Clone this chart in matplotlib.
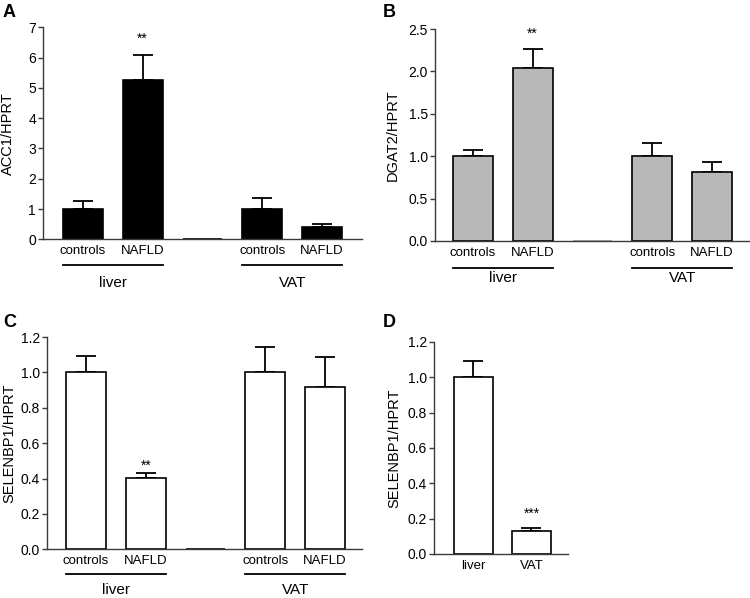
import numpy as np
import matplotlib.pyplot as plt
from matplotlib.transforms import offset_copy

plt.rcParams['font.family'] = ['Liberation Sans', 'DejaVu Sans']

# Données
groupes = ['controls', 'NAFLD', '', 'controls', 'NAFLD']
tissus = ['liver', 'VAT']

acc1_moy = [1.0, 5.27, 0.0, 1.0, 0.42]
acc1_err = [0.25, 0.83, 0.0, 0.36, 0.10]

dgat2_moy = [1.0, 2.04, 0.0, 1.0, 0.81]
dgat2_err = [0.07, 0.23, 0.0, 0.16, 0.12]

selenbp1_moy = [1.0, 0.405, 0.0, 1.0, 0.92]
selenbp1_err = [0.09, 0.027, 0.0, 0.145, 0.165]

selenbp1_tissu_moy = [1.0, 0.13]
selenbp1_tissu_err = [0.09, 0.015]

fig = plt.figure(figsize=(7.5, 5.98), dpi=100)

ax_a = fig.add_axes([0.0573, 0.5998, 0.4253, 0.3545])
ax_b = fig.add_axes([0.58, 0.597, 0.4187, 0.3545])
ax_c = fig.add_axes([0.0627, 0.0814, 0.42, 0.355])
ax_d = fig.add_axes([0.5787, 0.0736, 0.1787, 0.3545])

AXE = '#3a3a3a'


def style_axe(ax, ymax, pas, fmt, ylabel, xlabx):
    for s in ['top', 'right']:
        ax.spines[s].set_visible(False)
    for s in ['left', 'bottom']:
        ax.spines[s].set_color(AXE)
        ax.spines[s].set_linewidth(1.0)
    ax.set_ylim(0, ymax)
    yt = np.arange(0, ymax + pas / 2, pas)
    ax.set_yticks(yt)
    ax.set_yticklabels([fmt.format(v) for v in yt], fontsize=10)
    ax.tick_params(axis='y', length=3.5, width=1.0, color=AXE, pad=1.5)
    ax.tick_params(axis='x', length=0, pad=4, labelsize=9.5)
    ax.set_ylabel(ylabel, fontsize=10.5)
    ax.yaxis.set_label_coords(xlabx, 0.5)


def barres(ax, moy, err, couleur, ligne_vide):
    x = np.arange(len(moy))
    w = 0.667
    for i in range(len(moy)):
        if moy[i] == 0:
            ax.bar(x[i], 0, width=w, color='none', edgecolor=ligne_vide, linewidth=1.2)
            continue
        ax.bar(x[i], moy[i], width=w, color=couleur, edgecolor='black', linewidth=1.2, zorder=2)
        ax.errorbar(x[i], moy[i], yerr=[[0], [err[i]]], color='black', elinewidth=1.3,
                    capsize=7.2, capthick=1.3, zorder=1)
    return x, w


def sous_groupes(ax, x, w, d_ligne, d_texte):
    tr_l = offset_copy(ax.get_xaxis_transform(), fig=fig, y=-d_ligne, units='dots')
    tr_t = offset_copy(ax.get_xaxis_transform(), fig=fig, y=-d_texte, units='dots')
    for k, (i0, i1) in enumerate([(0, 1), (3, 4)]):
        ax.plot([x[i0] - w / 2, x[i1] + w / 2], [0, 0], color='black', lw=1.3,
                transform=tr_l, clip_on=False)
        ax.text((x[i0] + x[i1]) / 2, 0, tissus[k], transform=tr_t, ha='center',
                va='center', fontsize=11)


# A
x, w = barres(ax_a, acc1_moy, acc1_err, 'black', 'black')
style_axe(ax_a, 7, 1, '{:.0f}', 'ACC1/HPRT', -0.088)
ax_a.set_xlim(-0.667, 4.667)
ax_a.set_xticks(x)
ax_a.set_xticklabels(groupes)
sous_groupes(ax_a, x, w, 26, 44)
ax_a.text(1, 6.62, '**', ha='center', va='center', fontsize=10)

# B
x, w = barres(ax_b, dgat2_moy, dgat2_err, '#b8b8b8', '#9a9a9a')
style_axe(ax_b, 2.5, 0.5, '{:.1f}', 'DGAT2/HPRT', -0.111)
ax_b.set_xlim(-0.633, 4.617)
ax_b.set_xticks(x)
ax_b.set_xticklabels(groupes)
sous_groupes(ax_b, x, w, 27, 37)
ax_b.text(1, 2.44, '**', ha='center', va='center', fontsize=10)

# C
x, w = barres(ax_c, selenbp1_moy, selenbp1_err, 'white', 'black')
style_axe(ax_c, 1.2, 0.2, '{:.1f}', 'SELENBP1/HPRT', -0.098)
ax_c.set_xlim(-0.65, 4.617)
ax_c.set_xticks(x)
ax_c.set_xticklabels(groupes)
sous_groupes(ax_c, x, w, 25, 41)
ax_c.text(1, 0.475, '**', ha='center', va='center', fontsize=10)

# D
x, w = barres(ax_d, selenbp1_tissu_moy, selenbp1_tissu_err, 'white', 'black')
style_axe(ax_d, 1.2, 0.2, '{:.1f}', 'SELENBP1/HPRT', -0.246)
ax_d.set_xlim(-0.68, 1.63)
ax_d.set_xticks(x)
ax_d.set_xticklabels(tissus)
ax_d.text(1, 0.225, '***', ha='center', va='center', fontsize=10)

# lettres des panneaux
for lettre, (px, py) in zip('ABCD', [(3, 4), (383, 4), (3, 314), (383, 314)]):
    fig.text(px / 750, 1 - py / 598, lettre, fontsize=13, fontweight='bold',
             ha='left', va='top')

fig.savefig('out.png', dpi=100)
